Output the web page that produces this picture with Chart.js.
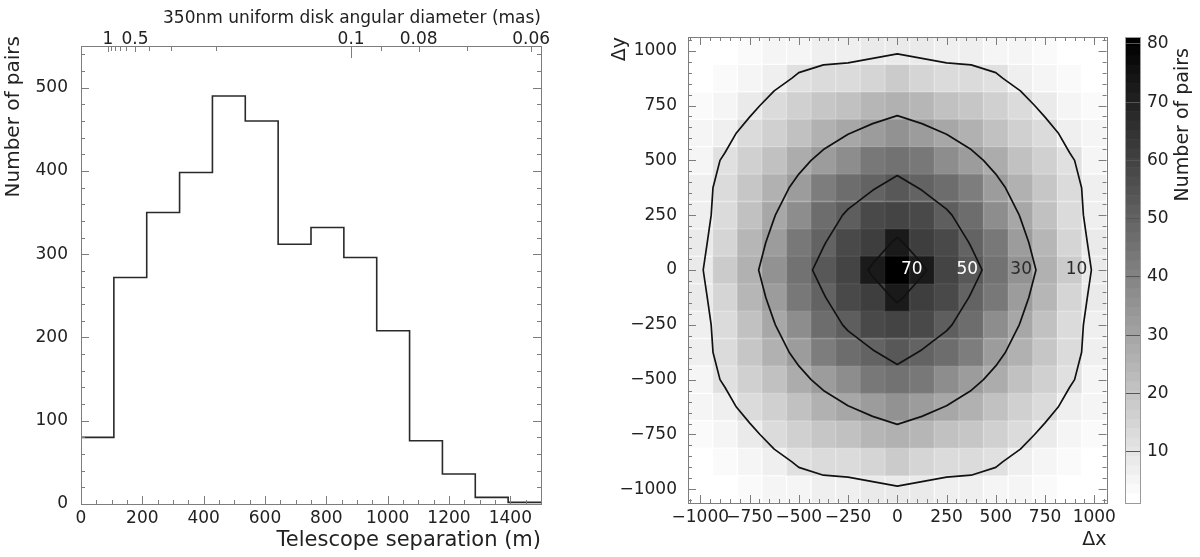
<!DOCTYPE html>
<html>
<head>
<meta charset="utf-8">
<title>Telescope separations and pair map</title>
<script src="https://cdn.jsdelivr.net/npm/chart.js@4.4.1/dist/chart.umd.min.js"></script>
<style>
  html, body { margin:0; padding:0; background:#ffffff; }
  body { position:relative; width:1200px; height:557px; overflow:hidden; }
  canvas { position:absolute; top:0; }
</style>
</head>
<body>
<canvas id="hist" width="600" height="557" style="left:0px"></canvas>
<canvas id="map" width="520" height="557" style="left:600px"></canvas>
<canvas id="cbar" width="80" height="557" style="left:1120px"></canvas>
<script>
// ---------------- data ----------------
const histRange = [0, 1500];
const histCounts = [80, 272, 350, 398, 490, 460, 312, 332, 296, 208, 76, 36, 8, 2];
const histXTicks = [0, 200, 400, 600, 800, 1000, 1200, 1400];
const histYTicks = [0, 100, 200, 300, 400, 500];
const histYMax = 550;
const thetaConst = 88.07;            // 1.22 * 350nm / B  -> mas * m
const thetaLabels = [1, 0.5, 0.1, 0.08, 0.06];
const thetaMinor = [0.9, 0.8, 0.7, 0.6, 0.4, 0.3, 0.2, 0.09, 0.07];

const mapCenters = [-1000, -875, -750, -625, -500, -375, -250, -125, 0, 125, 250, 375, 500, 625, 750, 875, 1000];
// rows from top (dy = 1000) to bottom (dy = -1000), columns dx = -1000 .. 1000
const mapCounts = [
  [0, 1.3, 3.2, 4.5, 6, 6.5, 7, 8, 9, 8, 7, 6.5, 6, 4.5, 3.2, 1.3, 0],
  [1.3, 3, 5, 7.4, 11, 13.3, 13.8, 15.1, 17.5, 15.1, 13.8, 13.3, 11, 7.4, 5, 3, 1.3],
  [3.2, 5, 7.8, 13, 16, 19.5, 21, 24.2, 26.5, 24.2, 21, 19.5, 16, 13, 7.8, 5, 3.2],
  [4.5, 7.4, 13, 17, 21.5, 26, 29.6, 33, 36, 33, 29.6, 26, 21.5, 17, 13, 7.4, 4.5],
  [6, 11, 16, 21.5, 27.4, 32.6, 38, 43.5, 45, 43.5, 38, 32.6, 27.4, 21.5, 16, 11, 6],
  [6.5, 13.3, 19.5, 26, 32.6, 42, 46.5, 49.2, 54, 49.2, 46.5, 42, 32.6, 26, 19.5, 13.3, 6.5],
  [7, 13.8, 21, 29.6, 38, 46.5, 51, 57.8, 59.5, 57.8, 51, 46.5, 38, 29.6, 21, 13.8, 7],
  [8, 15.1, 24.2, 33, 43.5, 49.2, 57.8, 62, 72.5, 62, 57.8, 49.2, 43.5, 33, 24.2, 15.1, 8],
  [9, 17.5, 26.5, 36, 45, 54, 59.5, 72.5, 81, 72.5, 59.5, 54, 45, 36, 26.5, 17.5, 9],
  [8, 15.1, 24.2, 33, 43.5, 49.2, 57.8, 62, 72.5, 62, 57.8, 49.2, 43.5, 33, 24.2, 15.1, 8],
  [7, 13.8, 21, 29.6, 38, 46.5, 51, 57.8, 59.5, 57.8, 51, 46.5, 38, 29.6, 21, 13.8, 7],
  [6.5, 13.3, 19.5, 26, 32.6, 42, 46.5, 49.2, 54, 49.2, 46.5, 42, 32.6, 26, 19.5, 13.3, 6.5],
  [6, 11, 16, 21.5, 27.4, 32.6, 38, 43.5, 45, 43.5, 38, 32.6, 27.4, 21.5, 16, 11, 6],
  [4.5, 7.4, 13, 17, 21.5, 26, 29.6, 33, 36, 33, 29.6, 26, 21.5, 17, 13, 7.4, 4.5],
  [3.2, 5, 7.8, 13, 16, 19.5, 21, 24.2, 26.5, 24.2, 21, 19.5, 16, 13, 7.8, 5, 3.2],
  [1.3, 3, 5, 7.4, 11, 13.3, 13.8, 15.1, 17.5, 15.1, 13.8, 13.3, 11, 7.4, 5, 3, 1.3],
  [0, 1.3, 3.2, 4.5, 6, 6.5, 7, 8, 9, 8, 7, 6.5, 6, 4.5, 3.2, 1.3, 0]
];
const mapTicks = [-1000, -750, -500, -250, 0, 250, 500, 750, 1000];
const contourLevels = [10, 30, 50, 70];
const zRange = [1.2, 81.2];
const zTicks = [10, 20, 30, 40, 50, 60, 70, 80];
const nBands = 50;

// ---------------- style ----------------
const FONT = "'DejaVu Sans', 'Liberation Sans', sans-serif";
const TXT = '#222222';
const FRAME = '#7d7d7d';
Chart.defaults.font.family = FONT;
Chart.defaults.color = TXT;

function minorValues(min, max, step, majors) {
  const out = [];
  for (let k = Math.ceil(min / step); k * step <= max + 1e-9; k++) {
    const v = Math.round(k * step * 1000) / 1000;
    if (!majors.some(m => Math.abs(m - v) < 1e-6)) out.push(v);
  }
  return out;
}
function tickLines(ctx, a, scale, values, len, side) {
  values.forEach(v => {
    const p = Math.round(scale.getPixelForValue(v)) + 0.5;
    ctx.beginPath();
    if (side === 'bottom') { ctx.moveTo(p, a.bottom); ctx.lineTo(p, a.bottom - len); }
    else if (side === 'top') { ctx.moveTo(p, a.top); ctx.lineTo(p, a.top + len); }
    else if (side === 'left') { ctx.moveTo(a.left, p); ctx.lineTo(a.left + len, p); }
    else { ctx.moveTo(a.right, p); ctx.lineTo(a.right - len, p); }
    ctx.stroke();
  });
}
function frameRect(ctx, a) {
  ctx.strokeRect(Math.round(a.left) + 0.5, Math.round(a.top) + 0.5,
                 Math.round(a.right) - Math.round(a.left), Math.round(a.bottom) - Math.round(a.top));
}
const fmtPlain = v => String(v).replace('-', '\u2212');

const bandStep = (zRange[1] - zRange[0]) / nBands;
function bandIndex(v) { return Math.max(0, Math.min(nBands - 1, Math.floor((v - zRange[0]) / bandStep))); }
function bandGray(k) { return Math.round(255 * (1 - k / (nBands - 1))); }
function bandColor(k) { const g = bandGray(k); return `rgb(${g},${g},${g})`; }
function seamColor(k) { const g = Math.min(255, bandGray(k) + 12); return `rgb(${g},${g},${g})`; }

// ---------------- histogram ----------------
const binW = (histRange[1] - histRange[0]) / histCounts.length;
const histPoints = histCounts.map((c, i) => ({ x: histRange[0] + i * binW, y: c }));
histPoints.push({ x: histRange[1], y: histCounts[histCounts.length - 1] });

const histFrame = {
  id: 'histFrame',
  afterDatasetsDraw(chart) {
    const { ctx, chartArea: a, scales } = chart;
    ctx.save();
    ctx.strokeStyle = FRAME; ctx.lineWidth = 1;
    frameRect(ctx, a);
    tickLines(ctx, a, scales.x, histXTicks, 8, 'bottom');
    tickLines(ctx, a, scales.x, minorValues(histRange[0], histRange[1], 50, histXTicks), 4, 'bottom');
    ['left', 'right'].forEach(s => {
      tickLines(ctx, a, scales.y, histYTicks, 8, s);
      tickLines(ctx, a, scales.y, minorValues(0, histYMax, 20, histYTicks), 4, s);
    });
    thetaLabels.forEach(t => tickLines(ctx, a, scales.x, [thetaConst / t], t === 0.1 ? 12 : 6, 'top'));
    tickLines(ctx, a, scales.x, thetaMinor.map(t => thetaConst / t), 5, 'top');
    // y-axis title
    ctx.fillStyle = TXT;
    ctx.font = `20px ${FONT}`;
    ctx.translate(14, 36);
    ctx.rotate(-Math.PI / 2);
    ctx.textAlign = 'right';
    ctx.textBaseline = 'middle';
    ctx.fillText('Number of pairs', 0, 0);
    ctx.restore();
  }
};

new Chart(document.getElementById('hist'), {
  type: 'scatter',
  data: { datasets: [{
    data: histPoints, showLine: true, stepped: true,
    borderColor: '#2a2a2a', borderWidth: 1.6, pointRadius: 0, fill: false
  }]},
  options: {
    responsive: false, animation: false, events: [], devicePixelRatio: 1,
    layout: { padding: { left: 0, right: 59, top: 0, bottom: 0 } },
    plugins: { legend: { display: false }, tooltip: { enabled: false } },
    scales: {
      x: {
        type: 'linear', position: 'bottom', min: histRange[0], max: histRange[1],
        grid: { display: false, drawTicks: false }, border: { display: false },
        afterBuildTicks: s => { s.ticks = histXTicks.map(v => ({ value: v })); },
        afterFit: s => { s.height = 53; },
        ticks: { autoSkip: false, maxRotation: 0, padding: 4, font: { size: 17 }, color: TXT, callback: v => fmtPlain(v) },
        title: { display: true, text: 'Telescope separation (m)', align: 'end', color: TXT,
                 font: { size: 21 }, padding: { top: 0, bottom: 4 } }
      },
      y: {
        type: 'linear', position: 'left', min: 0, max: histYMax,
        grid: { display: false, drawTicks: false }, border: { display: false },
        afterBuildTicks: s => { s.ticks = histYTicks.map(v => ({ value: v })); },
        afterFit: s => { s.width = 81; },
        ticks: { padding: 13, font: { size: 17 }, color: TXT, callback: v => fmtPlain(v) }
      },
      x2: {
        type: 'linear', axis: 'x', position: 'top', min: histRange[0], max: histRange[1],
        grid: { display: false, drawTicks: false }, border: { display: false },
        afterBuildTicks: s => { s.ticks = thetaLabels.map(t => ({ value: thetaConst / t })); },
        afterFit: s => { s.height = 46; },
        ticks: { autoSkip: false, maxRotation: 0, padding: 0, font: { size: 17, lineHeight: 0.75 }, color: TXT,
                 callback: (v, i) => String(thetaLabels[i]) },
        title: { display: true, text: '350nm uniform disk angular diameter (mas)', align: 'end', color: TXT,
                 font: { size: 17 }, padding: { top: 8, bottom: 0 } }
      }
    }
  },
  plugins: [histFrame]
});

// ---------------- 2D map ----------------
const cell = mapCenters[1] - mapCenters[0];
const mapMin = mapCenters[0] - cell / 2;
const mapMax = mapCenters[mapCenters.length - 1] + cell / 2;
const rowsY = mapCenters.slice().reverse();

const cellDatasets = mapCounts.map((row, r) => ({
  type: 'bar', order: 2, grouped: false, barPercentage: 1, categoryPercentage: 1,
  data: row.map((v, c) => ({ x: mapCenters[c], y: [rowsY[r] - cell / 2, rowsY[r] + cell / 2] })),
  backgroundColor: row.map(v => v >= zRange[0] ? bandColor(bandIndex(v)) : 'rgba(0,0,0,0)'),
  borderColor: row.map(v => v >= zRange[0] ? seamColor(bandIndex(v)) : 'rgba(0,0,0,0)'),
  borderWidth: 1, borderSkipped: false
}));

function contourLines(level) {
  const g = mapCounts, segs = [];
  const X = c => mapCenters[c], Y = r => rowsY[r];
  const cross = (v1, v2, x1, y1, x2, y2) => {
    if ((v1 >= level) === (v2 >= level)) return null;
    const t = (level - v1) / (v2 - v1);
    return { x: x1 + t * (x2 - x1), y: y1 + t * (y2 - y1) };
  };
  for (let r = 0; r < g.length - 1; r++) {
    for (let c = 0; c < g[r].length - 1; c++) {
      const tl = g[r][c], tr = g[r][c + 1], br = g[r + 1][c + 1], bl = g[r + 1][c];
      const top = cross(tl, tr, X(c), Y(r), X(c + 1), Y(r));
      const right = cross(tr, br, X(c + 1), Y(r), X(c + 1), Y(r + 1));
      const bottom = cross(bl, br, X(c), Y(r + 1), X(c + 1), Y(r + 1));
      const left = cross(tl, bl, X(c), Y(r), X(c), Y(r + 1));
      const list = [top, right, bottom, left].filter(Boolean);
      if (list.length === 2) segs.push([list[0], list[1]]);
      else if (list.length === 4) {
        const ctr = (tl + tr + br + bl) / 4;
        if ((tl >= level) === (ctr >= level)) { segs.push([top, right]); segs.push([bottom, left]); }
        else { segs.push([top, left]); segs.push([right, bottom]); }
      }
    }
  }
  const key = p => p.x.toFixed(4) + ',' + p.y.toFixed(4);
  const used = segs.map(() => false), lines = [];
  for (let i = 0; i < segs.length; i++) {
    if (used[i]) continue;
    used[i] = true;
    const line = [segs[i][0], segs[i][1]];
    let grown = true;
    while (grown) {
      grown = false;
      for (let j = 0; j < segs.length; j++) {
        if (used[j]) continue;
        const [a, b] = segs[j];
        const head = key(line[0]), tail = key(line[line.length - 1]);
        if (key(a) === tail) line.push(b);
        else if (key(b) === tail) line.push(a);
        else if (key(a) === head) line.unshift(b);
        else if (key(b) === head) line.unshift(a);
        else continue;
        used[j] = true; grown = true;
      }
    }
    lines.push(line);
  }
  return lines.flatMap(l => [...l, { x: NaN, y: NaN }]);
}

const contourDatasets = contourLevels.map(L => ({
  type: 'line', order: 0, data: contourLines(L),
  borderColor: '#111111', borderWidth: 1.7, pointRadius: 0, fill: false, tension: 0,
  spanGaps: false, borderJoinStyle: 'round', borderCapStyle: 'round'
}));

const mapFrame = {
  id: 'mapFrame',
  afterDatasetsDraw(chart) {
    const { ctx, chartArea: a, scales } = chart;
    ctx.save();
    // contour labels along dy = 0, to the right of the centre
    const row0 = mapCounts[rowsY.indexOf(0)];
    const c0 = mapCenters.indexOf(0);
    ctx.font = `17px ${FONT}`;
    ctx.textAlign = 'right';
    ctx.textBaseline = 'middle';
    contourLevels.forEach(L => {
      for (let c = c0; c < row0.length - 1; c++) {
        if (row0[c] >= L && row0[c + 1] < L) {
          const xv = mapCenters[c] + (L - row0[c]) / (row0[c + 1] - row0[c]) * cell;
          ctx.fillStyle = L >= 50 ? '#ffffff' : '#2a2a2a';
          ctx.fillText(String(L), scales.x.getPixelForValue(xv) - 4, scales.y.getPixelForValue(0));
          break;
        }
      }
    });
    ctx.strokeStyle = FRAME; ctx.lineWidth = 1;
    frameRect(ctx, a);
    const minors = minorValues(mapMin, mapMax, 50, mapTicks);
    ['bottom', 'top'].forEach(s => {
      tickLines(ctx, a, scales.x, mapTicks, 8, s);
      tickLines(ctx, a, scales.x, minors, 4, s);
    });
    ['left', 'right'].forEach(s => {
      tickLines(ctx, a, scales.y, mapTicks, 8, s);
      tickLines(ctx, a, scales.y, minors, 4, s);
    });
    ctx.restore();
  }
};

new Chart(document.getElementById('map'), {
  type: 'bar',
  data: { datasets: [...contourDatasets, ...cellDatasets] },
  options: {
    responsive: false, animation: false, events: [], devicePixelRatio: 1,
    layout: { padding: { left: 0, right: 3, top: 37, bottom: 0 } },
    plugins: { legend: { display: false }, tooltip: { enabled: false } },
    scales: {
      x: {
        type: 'linear', min: mapMin, max: mapMax, offset: false,
        grid: { display: false, drawTicks: false }, border: { display: false },
        afterBuildTicks: s => { s.ticks = mapTicks.map(v => ({ value: v })); },
        afterFit: s => { s.height = 54; },
        ticks: { autoSkip: false, maxRotation: 0, padding: 4, font: { size: 17 }, color: TXT, callback: v => fmtPlain(v) },
        title: { display: true, text: 'Δx', align: 'end', color: TXT, font: { size: 19 }, padding: { top: 0, bottom: 6 } }
      },
      y: {
        type: 'linear', min: mapMin, max: mapMax,
        grid: { display: false, drawTicks: false }, border: { display: false },
        afterBuildTicks: s => { s.ticks = mapTicks.map(v => ({ value: v })); },
        afterFit: s => { s.width = 88; },
        ticks: { padding: 11, font: { size: 17 }, color: TXT, callback: v => fmtPlain(v) },
        title: { display: true, text: 'Δy', align: 'end', color: TXT, font: { size: 19 }, padding: { top: 9, bottom: 0 } }
      }
    }
  },
  plugins: [mapFrame]
});

// ---------------- colour bar ----------------
const bandDatasets = Array.from({ length: nBands }, (_, k) => ({
  data: [[zRange[0] + k * bandStep, zRange[0] + (k + 1) * bandStep]],
  backgroundColor: bandColor(k), borderWidth: 0,
  grouped: false, barPercentage: 1, categoryPercentage: 1
}));

const cbarFrame = {
  id: 'cbarFrame',
  afterDraw(chart) {
    const { ctx, chartArea: a } = chart;
    ctx.save();
    ctx.strokeStyle = '#9a9a9a'; ctx.lineWidth = 1;
    frameRect(ctx, a);
    ctx.fillStyle = TXT;
    ctx.font = `19px ${FONT}`;
    ctx.translate(63, 48);
    ctx.rotate(-Math.PI / 2);
    ctx.textAlign = 'right';
    ctx.textBaseline = 'middle';
    ctx.fillText('Number of pairs', 0, 0);
    ctx.restore();
  }
};

new Chart(document.getElementById('cbar'), {
  type: 'bar',
  data: { labels: [''], datasets: bandDatasets },
  options: {
    responsive: false, animation: false, events: [], devicePixelRatio: 1,
    layout: { padding: { left: 5, right: 0, top: 37, bottom: 54 } },
    plugins: { legend: { display: false }, tooltip: { enabled: false } },
    scales: {
      x: { display: false },
      y: {
        position: 'right', min: zRange[0], max: zRange[1],
        grid: { display: true, drawOnChartArea: true, drawTicks: false, color: '#555555', z: 1 },
        border: { display: false },
        afterBuildTicks: s => { s.ticks = zTicks.map(v => ({ value: v })); },
        afterFit: s => { s.width = 60; },
        ticks: { padding: 7, font: { size: 17 }, color: TXT }
      }
    }
  },
  plugins: [cbarFrame]
});
</script>
</body>
</html>
